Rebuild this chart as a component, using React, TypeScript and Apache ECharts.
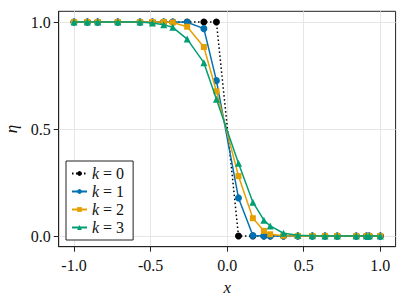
import React, { useEffect, useRef } from "react";
import * as echarts from "echarts";

const xs = [-1.0, -0.913, -0.845, -0.714, -0.569, -0.488, -0.414, -0.355, -0.261, -0.152, -0.07, 0.074, 0.168, 0.24, 0.281, 0.368, 0.462, 0.556, 0.639, 0.719, 0.843, 0.91, 0.928, 1.0];
const k0 = [1, 1, 1, 1, 1, 1, 1, 1, 1, 1, 1, 0, 0, 0, 0, 0, 0, 0, 0, 0, 0, 0, 0, 0];
const k1 = [1, 1, 1, 1, 1, 1, 1, 1, 0.999, 0.969, 0.726, 0.178, 0.002, 0, 0, 0, 0, 0, 0, 0, 0, 0, 0, 0];
const k2 = [1, 1, 1, 1, 1, 1, 1, 0.998, 0.978, 0.883, 0.676, 0.28, 0.083, 0.024, 0.008, 0.001, 0, 0, 0, 0, 0, 0, 0, 0];
const k3 = [1, 1, 1, 1, 1, 0.995, 0.987, 0.975, 0.92, 0.81, 0.639, 0.34, 0.158, 0.074, 0.047, 0.013, 0.003, 0.001, 0, 0, 0, 0, 0, 0];
const seriesNames = ["k0", "k1", "k2", "k3"];
const seriesLabels = ["0", "1", "2", "3"];
const xTicks = [-1, -0.5, 0, 0.5, 1];
const yTicks = [0, 0.5, 1];

const FONT = "Liberation Serif";

export default function App() {
  const ref = useRef<HTMLDivElement>(null);
  useEffect(() => {
    if (!ref.current) return;
    const chart = echarts.init(ref.current, null, { renderer: "svg" });
    const pair = (ys: number[]) => xs.map((x, i) => [x, ys[i]]);
    const colors = ["#000000", "#0072B2", "#E69F00", "#009E73"];
    const symbols = ["circle", "circle", "rect", "triangle"];
    const sizes = [7, 7, 6, 7];
    const data = [k0, k1, k2, k3];
    chart.setOption({
      animation: false,
      backgroundColor: "#ffffff",
      grid: {
        left: 58.7,
        right: 11.4,
        top: 11.3,
        bottom: 59.3,
        show: true,
        borderColor: "#222",
        borderWidth: 1,
        outerBoundsMode: "none",
      },
      legend: {
        orient: "vertical",
        left: 66,
        top: 161,
        padding: [4, 9, 4, 5],
        itemGap: 1,
        itemWidth: 15,
        itemHeight: 6,
        borderColor: "#222",
        borderWidth: 1,
        backgroundColor: "#fff",
        data: seriesNames,
        formatter: (name: string) => `{i|k} = ${seriesLabels[seriesNames.indexOf(name)]}`,
        textStyle: {
          fontFamily: FONT,
          fontSize: 16,
          lineHeight: 17,
          color: "#111",
          rich: { i: { fontStyle: "italic", fontFamily: FONT, fontSize: 16, lineHeight: 17, color: "#111" } },
        },
      },
      xAxis: {
        type: "value",
        min: -1.1,
        max: 1.1,
        name: "x",
        nameLocation: "middle",
        nameGap: 30,
        nameTextStyle: { fontFamily: FONT, fontSize: 17, fontStyle: "italic", color: "#111" },
        axisLine: { show: true, onZero: false, lineStyle: { color: "#222", width: 1 } },
        axisTick: { show: true, inside: false, length: 5, customValues: xTicks, lineStyle: { color: "#222" } },
        axisLabel: {
          customValues: xTicks,
          margin: 11,
          fontFamily: FONT,
          fontSize: 16,
          color: "#111",
          formatter: (v: number) => v.toFixed(1),
        },
        splitLine: { show: true, lineStyle: { color: "#e6e6e6", width: 1 } },
      },
      yAxis: {
        type: "value",
        min: -0.05,
        max: 1.05,
        name: "η",
        nameLocation: "middle",
        nameGap: 31,
        nameRotate: 90,
        nameTextStyle: { fontFamily: FONT, fontSize: 17, fontStyle: "italic", color: "#111" },
        axisLine: { show: true, onZero: false, lineStyle: { color: "#222", width: 1 } },
        axisTick: { show: true, inside: false, length: 5, customValues: yTicks, lineStyle: { color: "#222" } },
        axisLabel: {
          customValues: yTicks,
          margin: 8,
          fontFamily: FONT,
          fontSize: 16,
          color: "#111",
          formatter: (v: number) => v.toFixed(1),
        },
        splitLine: { show: true, lineStyle: { color: "#e6e6e6", width: 1 } },
      },
      series: seriesNames.map((n, i) => ({
        name: n,
        type: "line",
        data: pair(data[i]),
        symbol: symbols[i],
        symbolSize: sizes[i],
        showSymbol: true,
        z: 2 + i,
        itemStyle: { color: colors[i] },
        lineStyle: { color: colors[i], width: 1.5, type: i === 0 ? [1.5, 2.5] : "solid" },
      })),
    });
    return () => chart.dispose();
  }, []);
  return <div ref={ref} style={{ position: "fixed", left: 0, top: 0, width: 407, height: 306 }} />;
}
